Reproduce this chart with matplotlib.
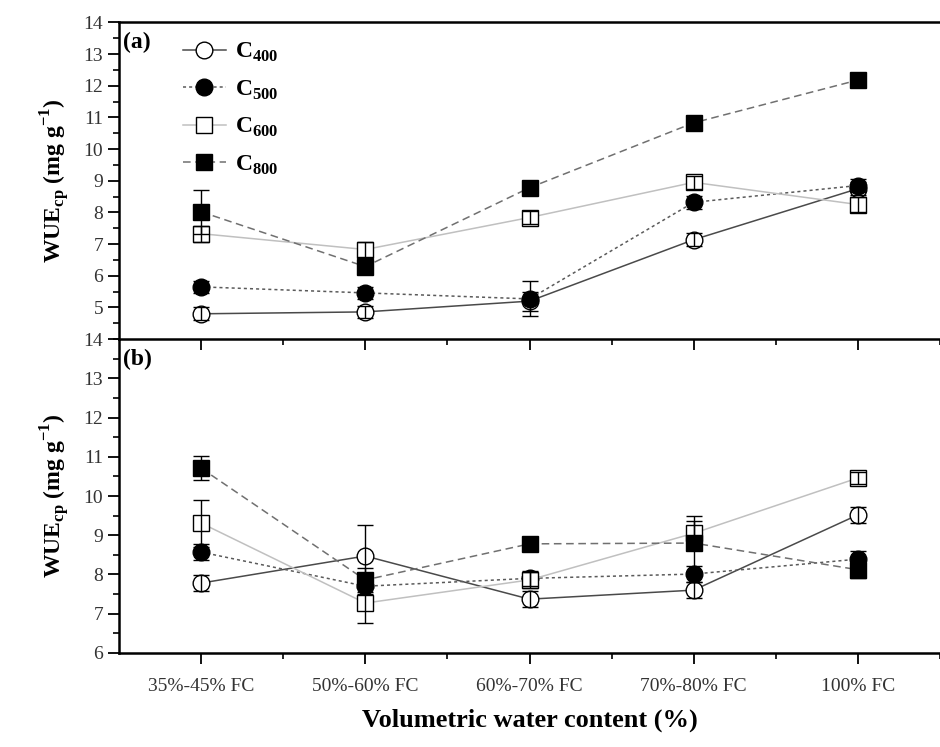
import numpy as np
import matplotlib.pyplot as plt
from matplotlib.ticker import MultipleLocator

plt.rcParams['font.family'] = ['Liberation Serif', 'DejaVu Serif']
plt.rcParams['mathtext.fontset'] = 'custom'
plt.rcParams['mathtext.rm'] = 'Liberation Serif'
plt.rcParams['mathtext.bf'] = 'Liberation Serif:bold'

# Data
categories = ['35%-45% FC', '50%-60% FC', '60%-70% FC', '70%-80% FC', '100% FC']
series = ['400', '500', '600', '800']

# panel (a)
a_c400 = [4.8, 4.86, 5.2, 7.14, 8.75]
a_c500 = [5.65, 5.46, 5.27, 8.32, 8.85]
a_c600 = [7.33, 6.83, 7.84, 8.95, 8.25]
a_c800 = [8.02, 6.29, 8.78, 10.83, 12.18]
a_err400 = [0.2, 0.2, 0.3, 0.2, 0.2]
a_err500 = [0.2, 0.2, 0.55, 0.2, 0.2]
a_err600 = [0.25, 0.25, 0.2, 0.2, 0.25]
a_err800 = [0.7, 0.2, 0.2, 0.2, 0.2]

# panel (b)
b_c400 = [7.78, 8.47, 7.37, 7.6, 9.52]
b_c500 = [8.57, 7.7, 7.9, 8.01, 8.39]
b_c600 = [9.31, 7.27, 7.86, 9.05, 10.46]
b_c800 = [10.71, 7.86, 8.78, 8.8, 8.12]
b_err400 = [0.2, 0.8, 0.2, 0.2, 0.2]
b_err500 = [0.2, 0.2, 0.2, 0.2, 0.2]
b_err600 = [0.6, 0.5, 0.2, 0.3, 0.15]
b_err800 = [0.3, 0.3, 0.15, 0.7, 0.2]

styles = {
    '400': dict(marker='o', mfc='white', color='#4a4a4a', ls='-'),
    '500': dict(marker='o', mfc='black', color='#5a5a5a', ls=(0, (2, 2))),
    '600': dict(marker='s', mfc='white', color='#c0c0c0', ls='-'),
    '800': dict(marker='s', mfc='black', color='#707070', ls=(0, (5, 3))),
}

x = np.arange(len(categories))

fig = plt.figure(figsize=(9.4, 7.47), dpi=100)
ax_b = fig.add_axes([0.1266, 0.126, 0.8734, 0.420])
ax_a = fig.add_axes([0.1266, 0.546, 0.8734, 0.424])
ax_b.patch.set_visible(False)


def draw(ax, vals, errs):
    handles = []
    for s, v, e in zip(series, vals, errs):
        st = styles[s]
        h, = ax.plot(x, v, linestyle=st['ls'], color=st['color'], lw=1.1,
                     marker=st['marker'], ms=12, mfc=st['mfc'], mec='black',
                     mew=1.0, zorder=2, label=r'C$_{\mathbf{%s}}$' % s)
        ax.errorbar(x, v, yerr=e, fmt='none', ecolor='black', elinewidth=1.0,
                    capsize=6, capthick=1.0, zorder=3)
        handles.append(h)
    return handles


handles = draw(ax_a, [a_c400, a_c500, a_c600, a_c800],
               [a_err400, a_err500, a_err600, a_err800])
draw(ax_b, [b_c400, b_c500, b_c600, b_c800],
     [b_err400, b_err500, b_err600, b_err800])

for ax in (ax_a, ax_b):
    ax.set_xlim(-0.5, 4.43)
    ax.set_xticks(x)
    ax.set_xticks(x + 0.5, minor=True)
    ax.yaxis.set_major_locator(MultipleLocator(1))
    ax.yaxis.set_minor_locator(MultipleLocator(0.5))
    ax.tick_params(axis='both', which='major', direction='out', length=8,
                   width=1.3, labelsize=14, colors='black', labelcolor='#333333')
    ax.tick_params(axis='both', which='minor', direction='out', length=4,
                   width=1.2)
    ax.spines['right'].set_visible(False)
    for sp in ('left', 'bottom', 'top'):
        ax.spines[sp].set_linewidth(1.8)
    ax.set_ylabel(r'WUE$_{\mathbf{cp}}$ (mg g$^{\mathbf{-1}}$)', fontsize=17,
                  fontweight='bold', labelpad=8)

ax_a.set_ylim(4, 14)
ax_a.set_yticks(np.arange(5, 15, 1))
ax_a.tick_params(axis='x', labelbottom=False)
ax_a.text(0.005, 0.97, '(a)', transform=ax_a.transAxes, fontsize=17,
          fontweight='bold', va='top', ha='left')
ax_a.legend(handles=handles, loc='upper left', bbox_to_anchor=(0.055, 1.0),
            frameon=False, prop={'size': 17, 'weight': 'bold'},
            handlelength=1.8, handletextpad=0.4, labelspacing=0.6,
            borderpad=0.3)

ax_b.set_ylim(6, 14)
ax_b.set_yticks(np.arange(6, 15, 1))
ax_b.spines['top'].set_visible(False)
ax_b.set_xticklabels(categories, fontsize=14)
ax_b.tick_params(axis='x', pad=10)
ax_b.text(0.005, 0.97, '(b)', transform=ax_b.transAxes, fontsize=17,
          fontweight='bold', va='top', ha='left')
ax_b.set_xlabel('Volumetric water content (%)', fontsize=19,
                fontweight='bold', labelpad=10)

fig.savefig('out.png', dpi=100)
